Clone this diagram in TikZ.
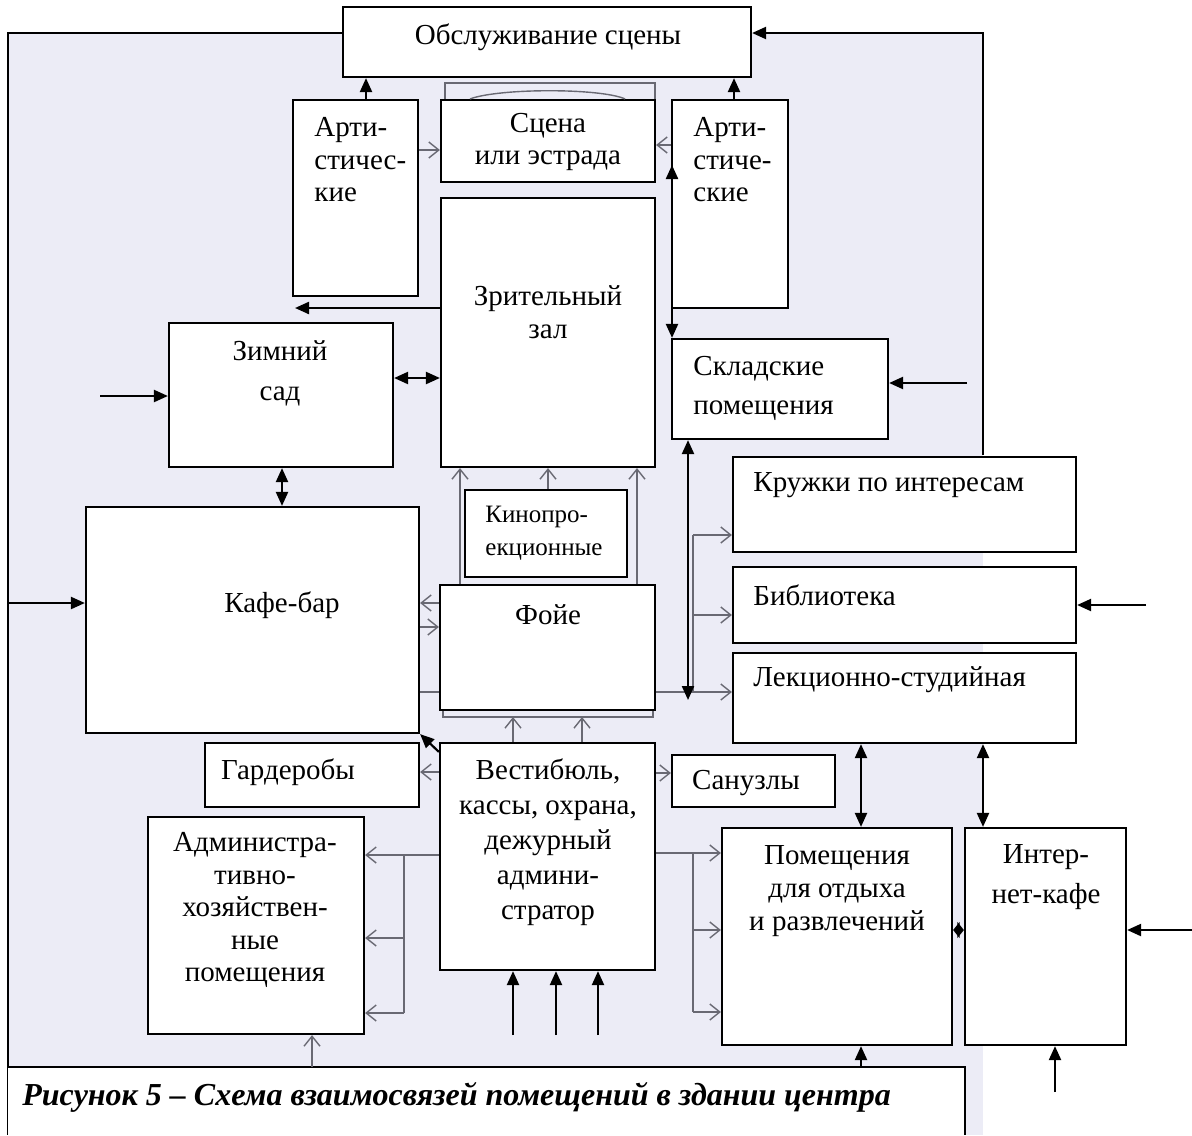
\documentclass[tikz,border=0pt]{standalone}
\usepackage{fontspec}
\setmainfont{Liberation Serif}
\usetikzlibrary{arrows.meta,fit}
\definecolor{scan}{RGB}{236,236,246}
\definecolor{pencil}{RGB}{105,105,115}

\begin{document}
\begin{tikzpicture}[x=0.5pt,y=-0.5pt,
    room/.style={draw, fill=white, line width=1.1pt, inner sep=0pt},
    txt/.style={font=\fontsize{14.5}{16.25}\selectfont, inner sep=0pt, align=center},
    txtl/.style={txt, align=left, anchor=west},
    blk/.style={line width=1.1pt, -{Triangle[length=7pt,width=6pt]}},
    blk2/.style={line width=1.1pt, {Triangle[length=7pt,width=6pt]}-{Triangle[length=7pt,width=6pt]}},
    gry/.style={pencil, line width=0.7pt, -{Straight Barb[length=5pt,width=8pt]}},
    gline/.style={pencil, line width=0.7pt}]
    \useasboundingbox (0,0) rectangle (1192,1135);
    % scanned sheet behind the scheme
    \fill[scan] (8,33) rectangle (983,1135);

    % rooms
    \node[room, fit={(343,7) (751,77)}] (obsl) {};
    \node[room, fit={(293,100) (418,296)}] (arti1) {};
    \node[room, fit={(441,100) (655,182)}] (scena) {};
    \node[room, fit={(672,100) (788,308)}] (arti2) {};
    \node[room, fit={(441,198) (655,467)}] (zal) {};
    \node[room, fit={(169,323) (393,467)}] (zimn) {};
    \node[room, fit={(672,339) (888,439)}] (skl) {};
    \node[room, fit={(733,457) (1076,552)}] (kruzh) {};
    \node[room, fit={(733,567) (1076,643)}] (bibl) {};
    \node[room, fit={(733,653) (1076,743)}] (lekc) {};
    \node[room, fit={(465,490) (627,577)}] (kino) {};
    \node[room, fit={(440,585) (655,710)}] (foie) {};
    \node[room, fit={(86,507) (419,733)}] (kafe) {};
    \node[room, fit={(205,743) (419,807)}] (gard) {};
    \node[room, fit={(440,743) (655,970)}] (vest) {};
    \node[room, fit={(672,755) (835,807)}] (sanuz) {};
    \node[room, fit={(148,817) (364,1034)}] (admin) {};
    \node[room, fit={(722,828) (952,1045)}] (otdyh) {};
    \node[room, fit={(965,828) (1126,1045)}] (inet) {};

    % room names
    \node[txt] (obsl-t) at (548,37) {Обслуживание сцены};
    \node[txtl] (arti1-t) at (314,160) {Арти-\\стичес-\\кие};
    \node[txt] (scena-t) at (548,142) {Сцена\\или эстрада};
    \node[txtl] (arti2-t) at (693,160) {Арти-\\стиче-\\ские};
    \node[txt] (zal-t) at (548,312) {Зрительный\\зал};
    \node[txt, font=\fontsize{14.5}{20}\selectfont] (zimn-t) at (280,373) {Зимний\\сад};
    \node[txtl, font=\fontsize{14.5}{19.5}\selectfont] (skl-t) at (693,388) {Складские\\помещения};
    \node[txtl] (kruzh-t) at (753,485) {Кружки по интересам};
    \node[txtl] (bibl-t) at (753,595) {Библиотека};
    \node[txtl] (lekc-t) at (753,680) {Лекционно-студийная};
    \node[txtl, font=\fontsize{12.5}{16.5}\selectfont] (kino-t) at (485,533) {Кинопро-\\екционные};
    \node[txt] (foie-t) at (548,615) {Фойе};
    \node[txt] (kafe-t) at (282,605) {Кафе-бар};
    \node[txt] (gard-t) at (288,772) {Гардеробы};
    \node[txt, font=\fontsize{14.5}{17.5}\selectfont] (vest-t) at (548,842) {Вестибюль,\\кассы, охрана,\\дежурный\\админи-\\стратор};
    \node[txt] (sanuz-t) at (746,783) {Санузлы};
    \node[txt] (admin-t) at (255,910) {Администра-\\тивно-\\хозяйствен-\\ные\\помещения};
    \node[txt, font=\fontsize{14.5}{16.5}\selectfont] (otdyh-t) at (837,891) {Помещения\\для отдыха\\и развлечений};
    \node[txt, font=\fontsize{14.5}{20}\selectfont] (inet-t) at (1046,877) {Интер-\\нет-кафе};

    % frame and caption
    \draw[line width=1.1pt] (obsl.west |- 0,33) -- (8,33) -- (8,1135);
    \draw[line width=0.6pt] (860,33) -- (983,33) -- (983,455);
    \fill[white] (8,1067) rectangle (965,1135);
    \draw[line width=1.1pt] (8,1067) -- (965,1067) -- (965,1135);
    \node[txtl, font=\fontsize{16}{18}\selectfont\bfseries\itshape] (cap) at (22,1097)
        {Рисунок 5 – Схема взаимосвязей помещений в здании центра};

    % pencil links of the scan
    \draw[gline] (445,0 |- scena.north) -- (445,83) -- (655,83) -- (655,0 |- scena.north);
    \draw[gline] (470,0 |- scena.north) .. controls (500,88) and (600,88) .. (625,0 |- scena.north);
    \draw[gry] (arti1.east |- 0,150) -- (scena.west |- 0,150);
    \draw[gry] (arti2.west |- 0,145) -- (scena.east |- 0,145);
    \draw[gry] (460,0 |- foie.north) -- (460,0 |- zal.south);
    \draw[gry] (637,0 |- foie.north) -- (637,0 |- zal.south);
    \draw[gry] (548,0 |- kino.north) -- (548,0 |- zal.south);
    \draw[gry] (foie.west |- 0,603) -- (kafe.east |- 0,603);
    \draw[gry] (kafe.east |- 0,627) -- (foie.west |- 0,627);
    \draw[gline] (kafe.east |- 0,692) -- (foie.west |- 0,692);
    \draw[gry] (foie.east |- 0,692) -- (lekc.west |- 0,692);
    \draw[gline] (693,692) -- (693,535);
    \draw[gry] (693,535) -- (kruzh.west |- 0,535);
    \draw[gry] (693,615) -- (bibl.west |- 0,615);
    \draw[gline] (443,0 |- foie.south) -- (443,717) -- (653,717) -- (653,0 |- foie.south);
    \foreach \x in {513,582}
        \draw[gry] (\x,0 |- vest.north) -- (\x,717);
    \draw[gry] (vest.west |- 0,772) -- (gard.east |- 0,772);
    \draw[gline] (vest.west |- 0,855) -- (404,855) -- (404,1013);
    \foreach \y in {855,938,1013}
        \draw[gry] (404,\y) -- (admin.east |- 0,\y);
    \draw[gry] (vest.east |- 0,773) -- (sanuz.west |- 0,773);
    \draw[gline] (vest.east |- 0,853) -- (693,853) -- (693,1012);
    \foreach \y in {853,930,1012}
        \draw[gry] (693,\y) -- (otdyh.west |- 0,\y);
    \draw[gry] (312,1067) -- (312,0 |- admin.south);

    % black links
    \draw[blk] (366,0 |- arti1.north) -- (366,0 |- obsl.south);
    \draw[blk] (734,0 |- arti2.north) -- (734,0 |- obsl.south);
    \draw[blk] (860,33) -- (obsl.east |- 0,33);
    \coordinate (zalout) at (295,308);
    \draw[blk] (zal.west |- zalout) -- (zalout);
    \coordinate (sktop) at (672,165);
    \draw[blk2] (sktop) -- (sktop |- skl.north);
    \coordinate (skin) at (967,383);
    \draw[blk] (skin) -- (skin -| skl.east);
    \coordinate (skbot) at (688,700);
    \draw[blk2] (skbot |- skl.south) -- (skbot);
    \coordinate (bibin) at (1146,605);
    \draw[blk] (bibin) -- (bibin -| bibl.east);
    \coordinate (zimin) at (100,396);
    \draw[blk] (zimin) -- (zimin -| zimn.west);
    \draw[blk2] (zimn.east |- 0,378) -- (zal.west |- 0,378);
    \draw[blk2] (282,0 |- zimn.south) -- (282,0 |- kafe.north);
    \coordinate (kafin) at (8,603);
    \draw[blk] (kafin) -- (kafin -| kafe.west);
    \draw[blk] ([yshift=-5pt]vest.north west) -- (kafe.south east);
    \foreach \x in {513,556,598}
        \draw[blk] (\x,1035) -- (\x,0 |- vest.south);
    \draw[blk2] (861,0 |- lekc.south) -- (861,0 |- otdyh.north);
    \draw[blk2] (983,0 |- lekc.south) -- (983,0 |- inet.north);
    \draw[line width=1.1pt, {Triangle[length=3.3pt,width=8pt]}-{Triangle[length=3.3pt,width=8pt]}]
        (otdyh.east |- 0,930) -- (inet.west |- 0,930);
    \coordinate (inin) at (1192,930);
    \draw[blk] (inin) -- (inin -| inet.east);
    \coordinate (inbot) at (1055,1092);
    \draw[blk] (inbot) -- (inbot |- inet.south);
    \draw[blk] (861,1067) -- (861,0 |- otdyh.south);
\end{tikzpicture}
\end{document}
